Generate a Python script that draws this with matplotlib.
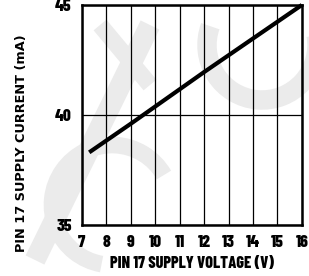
import matplotlib
matplotlib.use("Agg")
from matplotlib import pyplot as plt
from matplotlib.patches import Arc

voltage = [7.3, 9, 12, 16]
current = [38.3, 39.6, 41.95, 45.0]
x_ticks = [7, 8, 9, 10, 11, 12, 13, 14, 15, 16]
y_ticks = [35, 40, 45]

narrow = ['Barlow Condensed', 'Liberation Sans Narrow', 'DejaVu Sans']
wide = ['DejaVu Sans']
plt.rcParams['font.family'] = narrow

fig = plt.figure(figsize=(3.09, 2.76), dpi=100)

# faint watermark behind the chart, in pixel coords
bg = fig.add_axes([0, 0, 1, 1], zorder=-1)
bg.set_xlim(0, 309)
bg.set_ylim(276, 0)
bg.axis('off')
wm = '#ebebeb'
bg.plot([150, 35], [25, 260], color=wm, lw=15, solid_capstyle='butt')
bg.plot([100, 150], [25, 85], color=wm, lw=12, solid_capstyle='butt')
bg.add_patch(Arc((262, 45), 110, 110, theta1=-10, theta2=200, color=wm, lw=14))
bg.add_patch(Arc((112, 205), 120, 120, theta1=100, theta2=330, color=wm, lw=12))

ax = fig.add_axes([0.265, 0.185, 0.712, 0.797])
ax.patch.set_alpha(0)

ax.set_xlim(7, 16)
ax.set_ylim(35, 45)
ax.set_xticks(x_ticks)
ax.set_yticks(y_ticks)
ax.set_xticklabels([str(v) for v in x_ticks], fontweight=800, fontsize=12.5)
ax.set_yticklabels([str(v) for v in y_ticks], fontweight=800, fontsize=12.5)
ax.tick_params(length=0)
ax.tick_params(axis='x', pad=7.5)
ax.tick_params(axis='y', pad=7.3)

ax.grid(True, color='black', linewidth=0.9)
for s in ax.spines.values():
    s.set_linewidth(1.8)

ax.plot(voltage, current, color='black', lw=3, solid_capstyle='butt', clip_on=False)

fig.text(0.621, 0.047, 'PIN 17 SUPPLY VOLTAGE (V)', ha='center', va='center',
         fontweight=800, fontsize=11.7)
fig.text(0.068, 0.482, 'PIN 17 SUPPLY CURRENT (mA)', ha='center', va='center',
         rotation=90, fontweight='bold', fontsize=9.3, family=wide)

fig.savefig('out.png', dpi=100)
